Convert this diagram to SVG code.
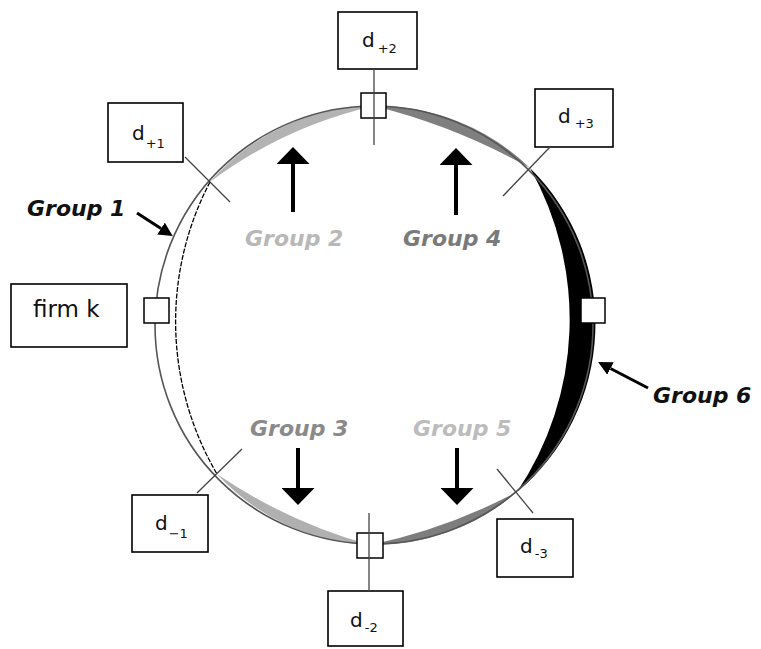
<svg xmlns="http://www.w3.org/2000/svg" width="761" height="649" viewBox="0 0 761 649">
<defs>
<style>
.box{fill:#fff;stroke:#000;stroke-width:1.6}
.sq{fill:#fff;stroke:#000;stroke-width:1.5}
.tick{stroke:#444;stroke-width:1.3;fill:none}
.dt{font-family:"DejaVu Sans","Verdana",sans-serif;font-size:20px;fill:#111}
.sub{font-size:13px}
.lbl{font-family:"DejaVu Sans","Verdana",sans-serif;font-size:22px;font-weight:bold;font-style:italic}
.big{stroke:#000;stroke-width:4;fill:none}
.small{stroke:#000;stroke-width:3;fill:none}
</style>
<marker id="bigHead" markerUnits="userSpaceOnUse" markerWidth="17" markerHeight="33" refX="0" refY="16.5" orient="auto">
<path d="M0,0 L17,16.5 L0,33 Z" fill="#000"/>
</marker>
<marker id="smallHead" markerUnits="userSpaceOnUse" markerWidth="14" markerHeight="14" refX="0" refY="7" orient="auto">
<path d="M0,0 L14,7 L0,14 Z" fill="#000"/>
</marker>
</defs>
<rect width="761" height="649" fill="#fff"/>

<g id="crescents">
<path d="M210,182 A219,219 0 0 1 374,106 A435,435 0 0 0 210,182 Z" fill="#b3b3b3"/>
<path d="M374,106 A219,219 0 0 1 530,168 A621,621 0 0 0 374,106 Z" fill="#7f7f7f"/>
<path d="M530,168 A219,219 0 0 1 517,492 A309,309 0 0 0 530,168 Z" fill="#000"/>
<path d="M517,492 A219,219 0 0 1 370,545 A568,568 0 0 0 517,492 Z" fill="#7d7d7d"/>
<path d="M370,545 A219,219 0 0 1 217,474 A519,519 0 0 0 370,545 Z" fill="#b0b0b0"/>
<path d="M210,182 A301,301 0 0 0 217,474" fill="none" stroke="#000" stroke-width="1.3" stroke-dasharray="5 1.5"/>
</g>
<circle id="ring" cx="374" cy="325" r="219" fill="none" stroke="#555" stroke-width="1.6"/>

<g id="firm-k">
<rect class="box" x="11" y="284" width="116" height="63"/>
<text class="dt" x="33" y="317" style="font-size:23px">firm k</text>
<rect class="sq" x="144" y="298" width="25" height="25"/>
</g>
<g id="node-right">
<rect class="sq" x="581" y="298" width="24" height="25"/>
</g>
<g id="d-plus-2">
<rect class="box" x="338" y="12" width="79" height="57"/>
<text class="dt" x="362" y="47">d<tspan class="sub" dx="3" dy="6">+2</tspan></text>
<rect class="sq" x="361" y="93" width="25" height="25"/>
</g>
<g id="d-plus-1">
<rect class="box" x="108" y="103" width="75" height="59"/>
<text class="dt" x="132" y="140">d<tspan class="sub" dx="1" dy="8">+1</tspan></text>
</g>
<g id="d-plus-3">
<rect class="box" x="535" y="89" width="78" height="58"/>
<text class="dt" x="558" y="123">d<tspan class="sub" dx="4" dy="5">+3</tspan></text>
</g>
<g id="d-minus-1">
<rect class="box" x="132" y="495" width="76" height="57"/>
<text class="dt" x="155" y="530">d<tspan class="sub" dx="1" dy="8">−1</tspan></text>
</g>
<g id="d-minus-2">
<rect class="box" x="328" y="591" width="75" height="55"/>
<text class="dt" x="350" y="627">d<tspan class="sub" dx="2" dy="5">-2</tspan></text>
<rect class="sq" x="357" y="533" width="26" height="25"/>
</g>
<g id="d-minus-3">
<rect class="box" x="497" y="519" width="76" height="58"/>
<text class="dt" x="520" y="553">d<tspan class="sub" dx="2" dy="5">-3</tspan></text>
</g>

<g id="connectors">
<line class="tick" x1="185" y1="157" x2="230" y2="202"/>
<line class="tick" x1="374" y1="69" x2="374" y2="145"/>
<line class="tick" x1="550" y1="147" x2="503" y2="196"/>
<line class="tick" x1="197" y1="493" x2="242" y2="449"/>
<line class="tick" x1="369" y1="513" x2="369" y2="591"/>
<line class="tick" x1="497" y1="469" x2="533" y2="513"/>
<line class="big" x1="293" y1="212" x2="293" y2="164" marker-end="url(#bigHead)"/>
<line class="big" x1="456" y1="215" x2="456" y2="165" marker-end="url(#bigHead)"/>
<line class="big" x1="298" y1="448" x2="298" y2="488" marker-end="url(#bigHead)"/>
<line class="big" x1="457" y1="448" x2="457" y2="488" marker-end="url(#bigHead)"/>
<line class="small" x1="137" y1="213" x2="161" y2="228.5" marker-end="url(#smallHead)"/>
<line class="small" x1="648" y1="388" x2="610.5" y2="368.5" marker-end="url(#smallHead)"/>
</g>

<g id="labels">
<text class="lbl" x="27" y="216" fill="#111">Group 1</text>
<text class="lbl" x="245" y="246" fill="#b8b8b8">Group 2</text>
<text class="lbl" x="250" y="436" fill="#8a8a8a">Group 3</text>
<text class="lbl" x="403" y="246" fill="#7a7a7a">Group 4</text>
<text class="lbl" x="413" y="436" fill="#bcbcbc">Group 5</text>
<text class="lbl" x="653" y="403" fill="#111">Group 6</text>
</g>
</svg>
